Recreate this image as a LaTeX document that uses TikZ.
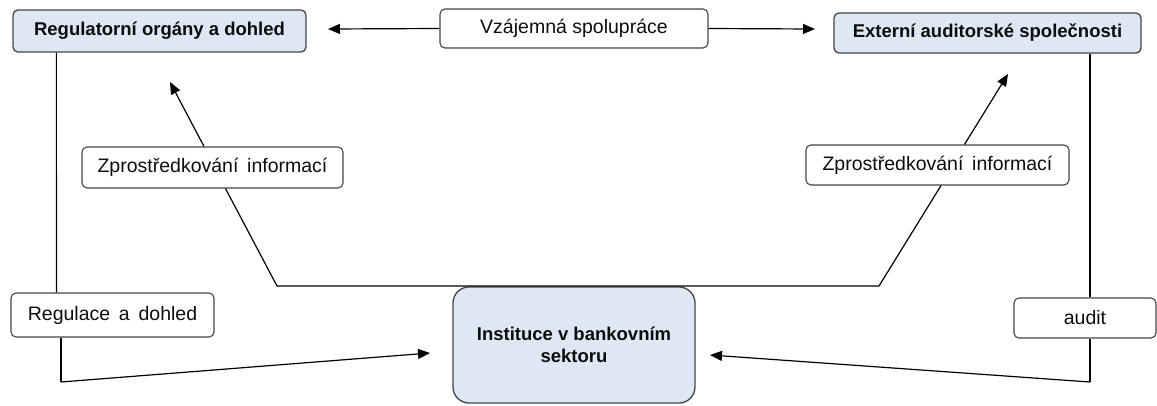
\documentclass[tikz,border=0pt]{standalone}
\usepackage{fontspec}
\setmainfont{Liberation Sans}
\usetikzlibrary{arrows.meta}
\definecolor{boxfill}{HTML}{DEE8F4}
\definecolor{edgegray}{HTML}{454545}
\newcommand\widewords{\spaceskip=0.45em\relax}
\begin{document}
\begin{tikzpicture}[x=1pt,y=-1pt,
  mainbox/.style={draw=edgegray, line width=1.3pt, fill=boxfill, rounded corners=5pt,
    font=\fontsize{18.5}{22}\selectfont\bfseries, text=black!95, inner sep=0pt, align=center},
  labelbox/.style={draw=edgegray, line width=1.1pt, fill=white, rounded corners=5pt,
    font=\fontsize{19.5}{23}\selectfont, text=black!95, inner sep=0pt},
  conn/.style={line width=1.2pt, black},
  arr/.style={conn, -{Triangle[length=12pt,width=10pt]}}]
\useasboundingbox (0,0) rectangle (1157,405);

% main boxes
\node[mainbox, minimum width=293pt, minimum height=42pt] (reg) at (159.5,31) {Regulatorní orgány a dohled};
\node[mainbox, minimum width=307pt, minimum height=40pt] (ext) at (987.5,33) {Externí auditorské společnosti};
\node[mainbox, minimum width=242pt, minimum height=116pt, rounded corners=16pt] (inst) at (574,345) {Instituce v bankovním\\sektoru};

% label boxes
\node[labelbox, minimum width=268pt, minimum height=39pt] (vz) at (574,28.5) {Vzájemná spolupráce};
\node[labelbox, minimum width=261pt, minimum height=41pt] (lz) at (212.5,167.5) {\widewords Zprostředkování informací};
\node[labelbox, minimum width=263pt, minimum height=40pt] (rz) at (937.5,165) {\widewords Zprostředkování informací};
\node[labelbox, minimum width=203pt, minimum height=44pt] (rl) at (112.5,315) {\widewords Regulace a dohled};
\node[labelbox, minimum width=142pt, minimum height=40pt] (au) at (1085,318) {audit};

% free ends and bends
\coordinate (vzltip) at (328,29);
\coordinate (vzrtip) at (815,29);
\coordinate (ltip) at (170,82);
\coordinate (rtip) at (1008,74);
\coordinate (lbend) at (277,286);
\coordinate (rbend) at (879,286);
\coordinate (lcorner) at (61,382);
\coordinate (rcorner) at (1090,382);
\coordinate (ltipb) at (430,353);
\coordinate (rtipb) at (710,355);

% connectors
\draw[arr] (vz.west) -- (vzltip);
\draw[arr] (vz.east) -- (vzrtip);

\draw[conn] ([xshift=13pt]lz.south) -- (lbend) -- (rbend) -- ([xshift=3.5pt]rz.south);
\draw[arr] ([xshift=-8.5pt]lz.north) -- (ltip);
\draw[arr] ([xshift=27pt]rz.north) -- (rtip);

\draw[conn] ([xshift=44pt]reg.south west) -- ([xshift=46pt]rl.north west);
\draw[conn] (rl.south -| lcorner) -- (lcorner);
\draw[arr] (lcorner) -- (ltipb);

\draw[conn] (ext.south -| rcorner) -- (au.north -| rcorner);
\draw[conn] (au.south -| rcorner) -- (rcorner);
\draw[arr] (rcorner) -- (rtipb);
\end{tikzpicture}
\end{document}
